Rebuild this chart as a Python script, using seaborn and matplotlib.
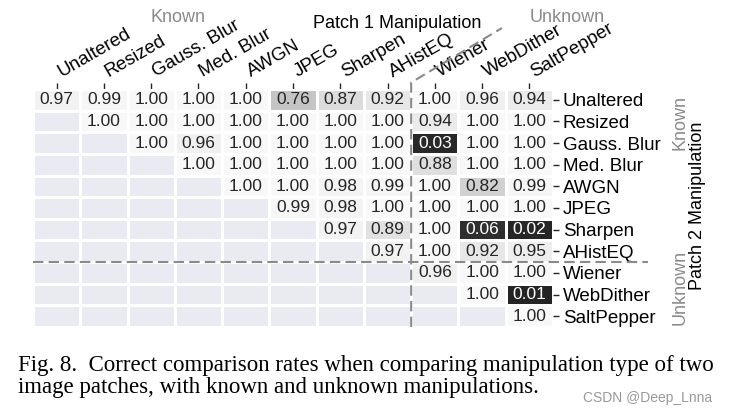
import numpy as np
import matplotlib
matplotlib.use('Agg')
import matplotlib.pyplot as plt
import matplotlib.transforms as mtransforms
import seaborn as sns
from matplotlib.colors import LinearSegmentedColormap, ListedColormap

# --- data: correct comparison rates (rows = patch 2, cols = patch 1) ---
manipulations = ['Unaltered', 'Resized', 'Gauss. Blur', 'Med. Blur', 'AWGN', 'JPEG',
                 'Sharpen', 'AHistEQ', 'Wiener', 'WebDither', 'SaltPepper']
N_KNOWN = 8

row_unaltered = [0.97, 0.99, 1.00, 1.00, 1.00, 0.76, 0.87, 0.92, 1.00, 0.96, 0.94]
row_resized = [1.00, 1.00, 1.00, 1.00, 1.00, 1.00, 1.00, 0.94, 1.00, 1.00]
row_gauss = [1.00, 0.96, 1.00, 1.00, 1.00, 1.00, 0.03, 1.00, 1.00]
row_med = [1.00, 1.00, 1.00, 1.00, 1.00, 0.88, 1.00, 1.00]
row_awgn = [1.00, 1.00, 0.98, 0.99, 1.00, 0.82, 0.99]
row_jpeg = [0.99, 0.98, 1.00, 1.00, 1.00, 1.00]
row_sharpen = [0.97, 0.89, 1.00, 0.06, 0.02]
row_ahisteq = [0.97, 1.00, 0.92, 0.95]
row_wiener = [0.96, 1.00, 1.00]
row_webdither = [1.00, 0.01]
row_saltpepper = [1.00]

rows = [row_unaltered, row_resized, row_gauss, row_med, row_awgn, row_jpeg,
        row_sharpen, row_ahisteq, row_wiener, row_webdither, row_saltpepper]

n = len(manipulations)
rates = np.full((n, n), np.nan)
for i, r in enumerate(rows):
    rates[i, n - len(r):] = r
empty = np.where(np.isnan(rates), 1.0, np.nan)

GREY = '#8a8a8a'
FONT = 'Liberation Sans'
FS = 13

sns.set_theme(style='white')
plt.rcParams['font.family'] = [FONT, 'DejaVu Sans']

fig = plt.figure(figsize=(7.29, 4.16), dpi=100)
ax = fig.add_axes([33 / 729, 1 - 327 / 416, 520 / 729, 238 / 416])

cmap = LinearSegmentedColormap.from_list('rate', ['#222222', '#f8f8f8'])

# lower triangle: blank cells
sns.heatmap(empty, cmap=ListedColormap(['#eaeaf2']), cbar=False,
            linewidths=0.8, linecolor='white', ax=ax)
sns.heatmap(rates, cmap=cmap, vmin=0, vmax=1, annot=True, fmt='.2f', cbar=False,
            linewidths=0.8, linecolor='white', ax=ax,
            annot_kws={'fontsize': 12.5, 'family': FONT})

ax.xaxis.tick_top()
ax.yaxis.tick_right()
ax.set_xticks(np.arange(n) + 0.5)
ax.set_yticks(np.arange(n) + 0.5)
ax.set_xticklabels(manipulations, rotation=30, ha='left', va='bottom',
                   rotation_mode='anchor', fontsize=13.5)
ax.set_yticklabels(manipulations, rotation=0, fontsize=13.5)
ax.tick_params(axis='both', length=4, width=1, color='.15', labelcolor='black')
ax.tick_params(axis='x', pad=2, top=True, bottom=False)
ax.tick_params(axis='y', pad=3, right=True, left=False)
ax.set_xlabel('')
ax.set_ylabel('')

# nudge the slanted labels so they start right at their tick
shift = mtransforms.ScaledTranslation(0.07, 0, fig.dpi_scale_trans)
for lbl in ax.get_xticklabels():
    lbl.set_transform(lbl.get_transform() + shift)

# known / unknown separators
dash = dict(color=GREY, lw=1.5, linestyle=(0, (5, 2.5)), clip_on=False)
ax.plot([0, 13.0], [N_KNOWN, N_KNOWN], **dash)
ax.plot([N_KNOWN, N_KNOWN, 9.92], [n, -0.3, -2.82], **dash)

# group labels
fig.text(178 / 729, 1 - 18 / 416, 'Known', color=GREY, fontsize=FS, ha='center', va='center')
fig.text(567 / 729, 1 - 18 / 416, 'Unknown', color=GREY, fontsize=FS, ha='center', va='center')
fig.text(397 / 729, 1 - 23 / 416, 'Patch 1 Manipulation', color='black', fontsize=FS,
         ha='center', va='center')
fig.text(680 / 729, 1 - 123 / 416, 'Known', color=GREY, fontsize=FS, rotation=90,
         ha='center', va='center')
fig.text(680 / 729, 1 - 287 / 416, 'Unknown', color=GREY, fontsize=FS, rotation=90,
         ha='center', va='center')
fig.text(698 / 729, 1 - 206 / 416, 'Patch 2 Manipulation', color='black', fontsize=FS,
         rotation=90, ha='center', va='center')

# caption
cap = dict(family='Liberation Serif', fontsize=16.5, color='black', ha='left', va='center')
fig.text(18 / 729, 1 - 365 / 416,
         'Fig. 8.  Correct comparison rates when comparing manipulation type of two', **cap)
fig.text(18 / 729, 1 - 388 / 416,
         'image patches, with known and unknown manipulations.', **cap)
fig.text(712 / 729, 1 - 398 / 416, 'CSDN @Deep_Lnna', color='#999999', fontsize=10,
         ha='right', va='center')

fig.savefig('out.png', dpi=100)
